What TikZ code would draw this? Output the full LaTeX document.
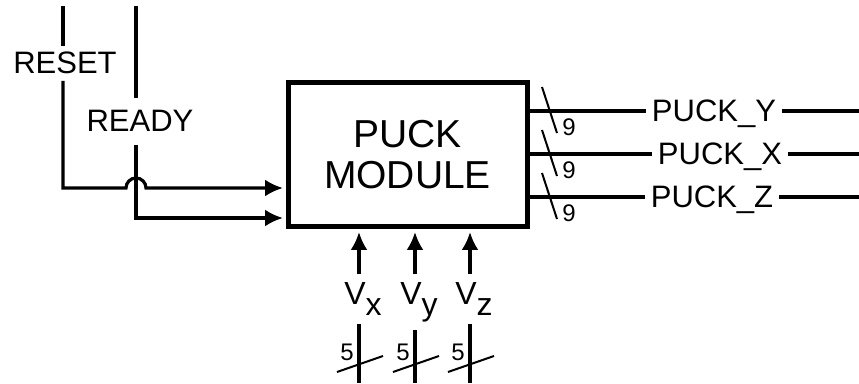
\documentclass[tikz,border=0pt]{standalone}
\usepackage{fontspec}
\setmainfont{Liberation Sans}
\usetikzlibrary{arrows.meta}

\begin{document}
\begin{tikzpicture}[>={Latex[length=18pt,width=17pt]},x=1pt,y=1pt,line width=3.2pt,
  siglabel/.style={font=\fontsize{31}{37}\selectfont,anchor=base},
  buswidth/.style={font=\fontsize{24}{28}\selectfont,inner sep=0pt},
  busslash/.style={line width=2pt}]
\useasboundingbox (0,0) rectangle (859,383);
% module
\node[draw,line width=5pt,minimum width=239pt,minimum height=144pt,inner sep=0pt,
  align=center,font=\fontsize{39}{41}\selectfont] (pm) at (407.5,228) {PUCK\\MODULE};
% reset and ready
\coordinate (rsttop) at (63,377);
\coordinate (rdytop) at (136,377);
\node[siglabel,inner sep=5pt] (rst) at (65,309) {RESET};
\node[siglabel,inner sep=11pt] (rdy) at (140,251) {READY};
\draw (rsttop) -- (rsttop |- rst.north);
\draw (rdytop) -- (rdytop |- rdy.north);
\coordinate (rstbend) at (63,195);
\coordinate (rdybend) at (136,165);
\draw[->,shorten >=2.5pt] (rsttop |- rst.south) -- (rstbend) -- (126,195) arc(180:0:10)
  -- (pm.west |- rstbend);
\draw[->,shorten >=2.5pt] (rdytop |- rdy.south) -- (rdybend) -- (pm.west |- rdybend);
% outputs
\coordinate (outend) at (859,0);
\foreach \y/\n/\c in {272/Y/714,229/X/720,186/Z/712}{
  \coordinate (o\n) at (549,\y);
  \node[siglabel,inner sep=4pt] (l\n) at (\c,\y-11) {PUCK\_\n};
  \draw (pm.east |- o\n) -- (o\n -| l\n.west);
  \draw (o\n -| l\n.east) -- (o\n -| outend);
  \draw[busslash] ([shift={(-7,24)}]o\n) -- ++(15,-46);
  \node[buswidth] at ([shift={(20,-16)}]o\n) {9};
}
% velocity inputs
\foreach \x/\s in {359/x,415/y,470/z}{
  \coordinate (b\s) at (\x,0);
  \node[font=\fontsize{32}{38}\selectfont,anchor=base,inner sep=7pt] (v\s) at (\x+4,78)
    {V\raisebox{-10pt}{\s}};
  \draw[->,shorten >=2.5pt] (b\s |- v\s.north) -- (b\s |- pm.south);
  \draw (b\s |- v\s.south) -- (b\s);
  \draw[busslash] ([shift={(-22,11)}]b\s) -- ++(46,16);
  \node[buswidth] at ([shift={(-12,31)}]b\s) {5};
}
\end{tikzpicture}
\end{document}
